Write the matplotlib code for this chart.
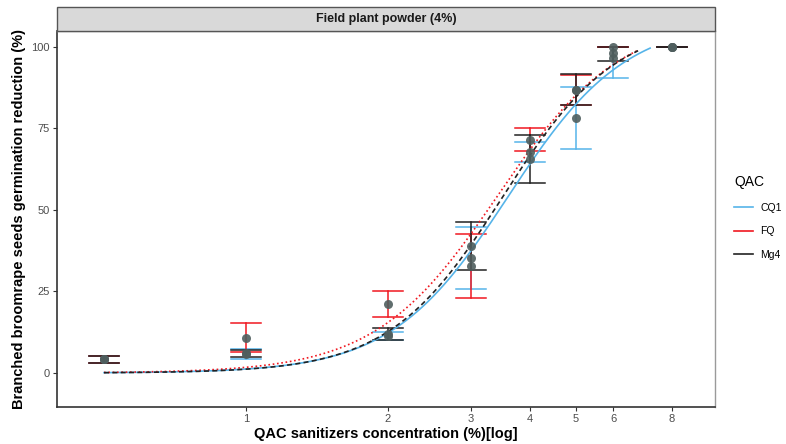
import matplotlib.pyplot as plt
from matplotlib.patches import Rectangle
from matplotlib.lines import Line2D
import numpy as np

plt.rcParams['font.family'] = ['Liberation Sans', 'DejaVu Sans']

# QAC sanitizer concentrations (%)
doses = [0.5, 1, 2, 3, 4, 5, 6, 8]

# germination reduction (%): mean, lower and upper end of the error bar
cq1_mean = [4.3, 5.8, 11.3, 35.3, 67.8, 78.1, 96.5, 100]
cq1_low = [3.1, 4.3, 10.1, 25.8, 64.8, 68.6, 90.6, 100]
cq1_high = [5.2, 7.4, 12.5, 44.9, 70.8, 87.6, 100, 100]

fq_mean = [4.3, 10.8, 21.2, 32.8, 71.6, 86.8, 100, 100]
fq_low = [3.1, 6.4, 17.3, 23.1, 68.1, 82.2, 100, 100]
fq_high = [5.2, 15.3, 25.2, 42.5, 75.0, 91.4, 100, 100]

mg4_mean = [4.3, 6.0, 12.0, 39.0, 65.7, 86.9, 98.0, 100]
mg4_low = [3.1, 4.9, 10.1, 31.6, 58.4, 82.2, 95.6, 100]
mg4_high = [5.2, 7.1, 13.9, 46.4, 73.0, 91.7, 100, 100]

# log-logistic fits (slope b, upper limit d, ED50 e) and the dose range drawn
cq1_fit = dict(b=3.5, d=108.5, e=3.6, end=7.19)
fq_fit = dict(b=3.35, d=109, e=3.42, end=6.78)
mg4_fit = dict(b=3.6, d=108, e=3.5, end=6.78)

groups = [
    ('CQ1', '#56B4E9', '-', cq1_mean, cq1_low, cq1_high, cq1_fit),
    ('FQ', '#F01820', (0, (1, 1.6)), fq_mean, fq_low, fq_high, fq_fit),
    ('Mg4', '#222222', (0, (3, 2)), mg4_mean, mg4_low, mg4_high, mg4_fit),
]

W, H = 786, 444
fig = plt.figure(figsize=(W / 100, H / 100), dpi=100)
ax = fig.add_axes([57 / W, (H - 407) / H, (715 - 57) / W, (407 - 31) / H])

cap = 10 ** 0.032  # half cap width as a ratio on the log axis

for name, col, ls, mean, low, high, fit in groups:
    for x, lo, hi in zip(doses, low, high):
        ax.plot([x, x], [lo, hi], color=col, lw=1.1, zorder=2)
        ax.plot([x / cap, x * cap], [lo, lo], color=col, lw=1.1, zorder=2)
        ax.plot([x / cap, x * cap], [hi, hi], color=col, lw=1.1, zorder=2)

for name, col, ls, mean, low, high, fit in groups:
    xs = np.geomspace(doses[0], fit['end'], 200)
    ys = fit['d'] / (1 + (fit['e'] / xs) ** fit['b'])
    ax.plot(xs, ys, color=col, lw=1.2, linestyle=ls, zorder=3)

for name, col, ls, mean, low, high, fit in groups:
    ax.scatter(doses, mean, s=42, color='#4f5e5e', alpha=0.9,
               linewidths=0, zorder=4)

ax.set_xscale('log')
ax.set_xlim(0.3975, 9.87)
ax.set_ylim(-10.43, 104.9)
ax.set_xticks([1, 2, 3, 4, 5, 6, 8])
ax.set_xticklabels(['1', '2', '3', '4', '5', '6', '8'])
ax.xaxis.set_minor_locator(plt.NullLocator())
ax.set_yticks([0, 25, 50, 75, 100])
ax.tick_params(axis='both', labelsize=8, colors='#333333', labelcolor='#4d4d4d',
               length=3, width=0.8, pad=2)

for side in ['left', 'bottom']:
    ax.spines[side].set_color('#333333')
    ax.spines[side].set_linewidth(1.2)
for side in ['top', 'right']:
    ax.spines[side].set_color('#9a9a9a')
    ax.spines[side].set_linewidth(1.0)

ax.set_xlabel('QAC sanitizers concentration (%)[log]', fontsize=10.5,
              fontweight='bold', labelpad=2)
ax.set_ylabel('Branched broomrape seeds germination reduction (%)', fontsize=10.5,
              fontweight='bold', labelpad=4)

# facet strip
fig.patches.append(Rectangle((57 / W, (H - 31) / H), (715 - 57) / W, 23.5 / H,
                             transform=fig.transFigure, facecolor='#d9d9d9',
                             edgecolor='#555555', lw=1.0))
fig.text(386 / W, (H - 19) / H, 'Field plant powder (4%)', ha='center',
         va='center', fontsize=9, fontweight='bold', color='#1a1a1a')

# legend
handles = [Line2D([], [], color=g[1], lw=1.2) for g in groups]
fig.legend(handles, [g[0] for g in groups], title='QAC', loc='upper left',
           bbox_to_anchor=(725 / W, (H - 166) / H), frameon=False, fontsize=7.5,
           title_fontsize=10, handlelength=1.8, handletextpad=0.7,
           labelspacing=1.3, alignment='left')

fig.savefig('out.png', dpi=100)
